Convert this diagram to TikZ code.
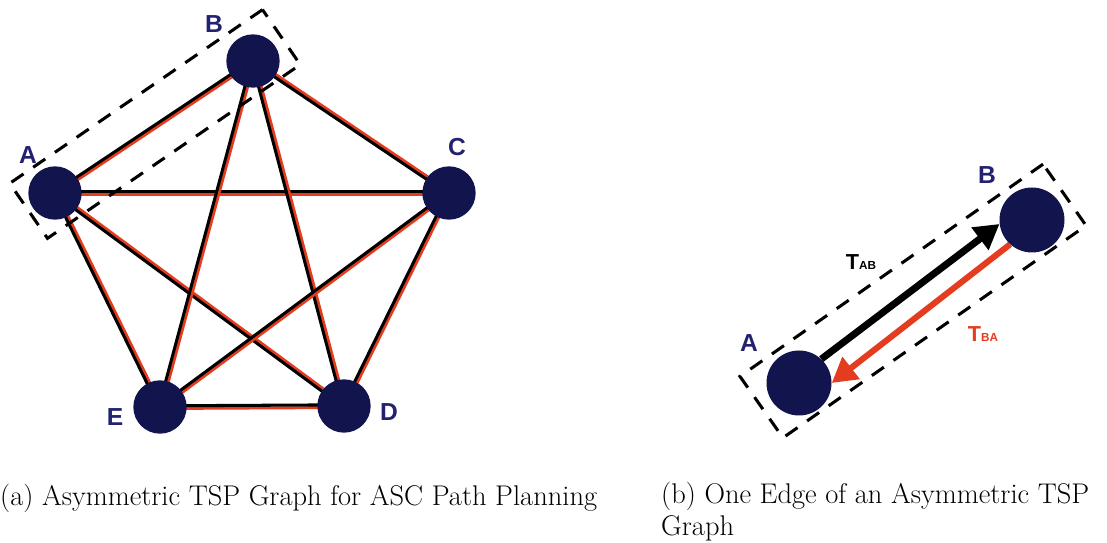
\documentclass[tikz,border=0pt]{standalone}
\usepackage{fontspec}
\setsansfont{Liberation Sans}
\usetikzlibrary{calc,arrows.meta,backgrounds}
\definecolor{navy}{RGB}{18,20,78}
\definecolor{labelblue}{RGB}{34,34,112}
\definecolor{edgered}{RGB}{228,60,30}

\begin{document}
\begin{tikzpicture}[
    x=0.03cm, y=-0.03cm,
    vertex/.style={circle, fill=navy, minimum size=1.6cm, inner sep=0pt},
    bigvertex/.style={vertex, minimum size=1.95cm},
    letter/.style={text=labelblue, font=\sffamily\bfseries\fontsize{21}{21}\selectfont, inner sep=0pt},
    tlabel/.style={font=\sffamily\bfseries\fontsize{18.5}{18.5}\selectfont, inner sep=0pt},
    pairbox/.style={draw, line width=2.6pt, dash pattern=on 12.5pt off 10pt, minimum height=2cm, inner sep=0pt},
    redline/.style={draw=edgered, line width=2.5pt},
    blackline/.style={draw=black, line width=2.6pt},
    abarrow/.style={draw=black, line width=6pt, -{Triangle[length=21pt, width=23pt]}},
    baarrow/.style={draw=edgered, line width=5.2pt, -{Triangle[length=21pt, width=23pt]}},
    caption/.style={font=\fontsize{24.3}{28}\selectfont, inner sep=0pt}
]
\useasboundingbox (0,0) rectangle (1107,543);

% (a) the complete graph on five vertices
\node[vertex] (a) at (55,193) {};
\node[vertex] (b) at (253,61) {};
\node[vertex] (c) at (449,193) {};
\node[vertex] (d) at (344,406) {};
\node[vertex] (e) at (160,407) {};

\node[letter] (la) at (28,155) {A};
\node[letter] (lb) at (214,24) {B};
\node[letter] (lc) at (457,147) {C};
\node[letter] (ld) at (389,412) {D};
\node[letter] (le) at (115,417) {E};

\begin{scope}[on background layer]
\foreach \p/\q in {e/a, a/b, a/c, d/a, c/b, e/b, d/b, d/c, e/c, e/d} {
    \draw[redline] ($(\p)!1.3pt!-90:(\q)$) -- ($(\q)!1.3pt!90:(\p)$);
    \draw[blackline] ($(\p)!1pt!90:(\q)$) -- ($(\q)!1pt!-90:(\p)$);
}
\end{scope}

\node[pairbox, minimum width=9.2cm, rotate=34.5] (boxab) at (155,124) {};

% (b) one edge, both directions
\node[bigvertex] (pa) at (799,383) {};
\node[bigvertex] (pb) at (1032,220) {};
\node[letter] (lpa) at (749,343) {A};
\node[letter] (lpb) at (987,175) {B};

\begin{scope}[on background layer]
\draw[abarrow] (pa.47) -- (pb.187);
\draw[baarrow] (pb.228) -- (pa.east);
\end{scope}

\node[tlabel] (tab) at (861,262) {T{\fontsize{10}{10}\selectfont AB}};
\node[tlabel, text=edgered] (tba) at (983,334) {T{\fontsize{10}{10}\selectfont BA}};

\node[pairbox, minimum width=11.1cm, minimum height=2.25cm, rotate=35] (boxpq) at (913,301) {};

% captions
\node[caption, anchor=base west] (capa) at (0,506) {(a) Asymmetric TSP Graph for ASC Path Planning};
\node[caption, anchor=base west, align=left] (capb) at (661,536) {(b) One Edge of an Asymmetric TSP\\Graph};
\end{tikzpicture}
\end{document}
